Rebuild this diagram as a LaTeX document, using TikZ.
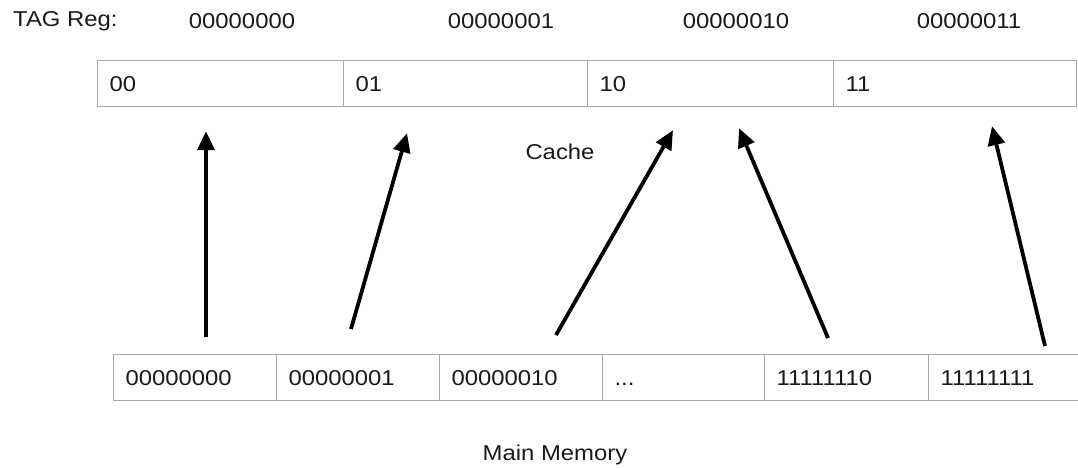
\documentclass[tikz,border=0pt]{standalone}
\usepackage{fontspec}
\setmainfont{Liberation Sans}[FakeStretch=1.11]
\usetikzlibrary{arrows.meta,calc}
\definecolor{boxgray}{HTML}{A8A8A8}
\definecolor{txt}{HTML}{1A1A1A}
\begin{document}
\begin{tikzpicture}[x=1pt,y=-1pt,
  cell/.style={draw=boxgray, line width=1.2pt, minimum height=46pt, inner xsep=12pt, inner ysep=0pt,
    anchor=north west, align=left, font=\fontsize{21.5}{25}\selectfont, text=txt},
  lbl/.style={font=\fontsize{21.5}{25}\selectfont, text=txt, inner sep=0pt},
  ar/.style={line width=3.8pt, -{Triangle[length=19pt,width=17pt]}}]
\useasboundingbox (0,0) rectangle (1078,467);
\fill[white] (0,0) rectangle (1078,467);

% TAG register labels
\node[lbl, anchor=west] (tag) at (13,21) {TAG Reg:};
\node[lbl] (t0) at (242,21) {00000000};
\node[lbl] (t1) at (501,21) {00000001};
\node[lbl] (t2) at (736,21) {00000010};
\node[lbl] (t3) at (969,21) {00000011};

% cache cells
\node[cell, text width=222pt] (c0) at (97,60) {00};
\node[cell, text width=220pt] (c1) at (343,60) {01};
\node[cell, text width=222pt] (c2) at (587,60) {10};
\node[cell, text width=219pt] (c3) at (833,60) {11};

\node[lbl] (cache) at (560,152) {Cache};

% memory cells
\node[cell, text width=139pt] (m0) at (113,354) {00000000};
\node[cell, text width=139pt] (m1) at (276,354) {00000001};
\node[cell, text width=139pt] (m2) at (439,354) {00000010};
\node[cell, text width=138pt] (m3) at (602,354) {\vphantom{0}...};
\node[cell, text width=140pt] (m4) at (764,354) {11111110};
\node[cell, text width=140pt] (m5) at (928,354) {11111111};

\node[lbl] (mm) at (555,455) {Main Memory};

% arrows
\draw[ar] ($(m0.north west)+(93,-17)$) -- ($(c0.south west)+(109,24)$);
\draw[ar] ($(m1.north west)+(75,-25)$) -- ($(c1.south west)+(64,26)$);
\draw[ar] ($(m2.north west)+(117,-19)$) -- ($(c2.south west)+(86,23)$);
\draw[ar] ($(m4.north west)+(64,-16)$) -- ($(c2.south west)+(152,21)$);
\draw[ar] ($(m5.north west)+(117,-8)$) -- ($(c3.south west)+(159,19)$);
\end{tikzpicture}
\end{document}
